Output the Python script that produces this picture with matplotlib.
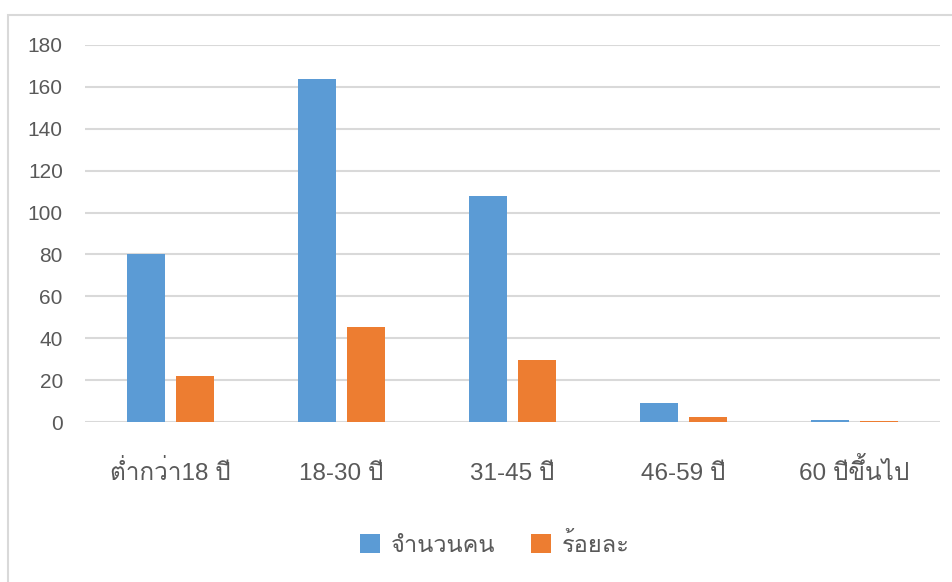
import matplotlib
matplotlib.use("Agg")
import matplotlib.pyplot as plt
from matplotlib import font_manager, ft2font
from matplotlib.patches import Rectangle
import numpy as np

# data
categories = ["ต่ำกว่า18 ปี", "18-30 ปี", "31-45 ปี", "46-59 ปี", "60 ปีขึ้นไป"]
people = [80, 164, 108, 9, 1]
percent = [22.1, 45.3, 29.8, 2.5, 0.3]
series_names = ["จำนวนคน", "ร้อยละ"]
y_ticks = [0, 20, 40, 60, 80, 100, 120, 140, 160, 180]


# find an installed family that has Thai glyphs
def thai_family():
    for f in font_manager.fontManager.ttflist:
        try:
            font = ft2font.FT2Font(f.fname)
            if 0x0E01 in font.get_charmap() and 0x0E33 in font.get_charmap():
                return f.name
        except Exception:
            pass
    return None


thai = thai_family()
families = ["Liberation Sans", "DejaVu Sans"]
if thai:
    families = ["Liberation Sans", thai, "DejaVu Sans"]
plt.rcParams["font.family"] = families

blue = "#5B9BD5"
orange = "#ED7D31"
grid = "#D9D9D9"
text = "#595959"

fig = plt.figure(figsize=(9.53, 5.82), dpi=100)
fig.patches.append(Rectangle((8 / 953, -0.1), 1.1, 0.1 + 1 - 15 / 582,
                             transform=fig.transFigure, fill=False,
                             edgecolor=grid, linewidth=1.5))

ax = fig.add_axes([85 / 953, 1 - 422 / 582, 855 / 953, 377 / 582])

x = np.arange(len(categories))
w = 0.222
ax.bar(x - 0.143, people, w, color=blue, label=series_names[0], zorder=3)
ax.bar(x + 0.143, percent, w, color=orange, label=series_names[1], zorder=3)

ax.set_xlim(-0.5, len(categories) - 0.5)
ax.set_ylim(0, 180)
ax.set_yticks(y_ticks)
ax.set_xticks(x)
ax.set_xticklabels(categories, fontsize=17.5, color=text)
for lab in ax.get_xticklabels():
    lab.set_verticalalignment("baseline")
ax.tick_params(axis="y", labelsize=15, labelcolor=text, length=0, pad=16)
ax.tick_params(axis="x", length=0, pad=42)
ax.yaxis.grid(True, color=grid, linewidth=1.5, zorder=0)
for s in ax.spines.values():
    s.set_visible(False)

fig.legend(loc="center", bbox_to_anchor=(495 / 953, 1 - 545 / 582), ncol=2,
           frameon=False, fontsize=17, labelcolor=text, handlelength=0.85,
           handleheight=0.85, handletextpad=0.45, columnspacing=1.5)

fig.savefig("out.png", dpi=100)
